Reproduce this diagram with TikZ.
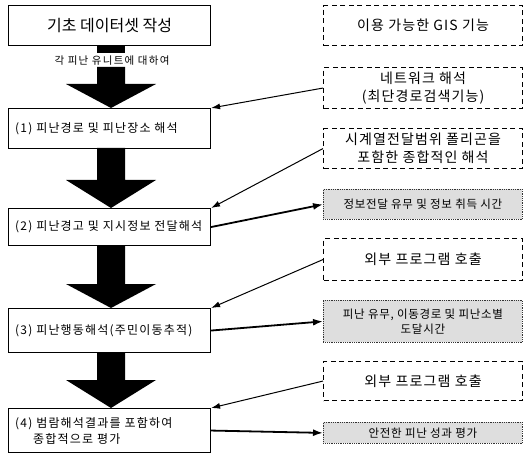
\documentclass[tikz,border=0pt]{standalone}
\usepackage{fontspec}
\setmainfont{Noto Sans CJK KR}
\usetikzlibrary{calc,arrows.meta}
\newcommand{\lsp}[1]{\addfontfeature{LetterSpace=#1}}
\tikzset{
  lbox/.style={draw=black,line width=1.1pt,fill=white,anchor=north west,minimum width=202pt,inner sep=0pt},
  ltxt/.style={anchor=west,inner sep=0pt,align=left,font=\fontsize{12}{16}\selectfont\lsp{10}},
  dbox/.style={draw=black,line width=1.1pt,dash pattern=on 5pt off 3.5pt,anchor=north west,minimum width=199pt,inner sep=0pt,font=\fontsize{14}{18}\selectfont\lsp{8},align=center},
  gbox/.style={draw=black!80,line width=0.8pt,densely dotted,fill=black!13,anchor=north west,minimum width=199pt,inner sep=0pt,font=\fontsize{11.5}{15}\selectfont\lsp{6},align=center},
  thin/.style={line width=1pt,-{Latex[length=9pt,width=6pt]}},
  thick/.style={line width=1.8pt,-{Latex[length=10pt,width=7pt]}},
  blk/.style={fill=black}
}
\begin{document}
\begin{tikzpicture}[x=1pt,y=-1pt]
\useasboundingbox (0,0) rectangle (524,454);
% left boxes
\node[lbox,minimum height=40pt,font=\fontsize{16}{18}\selectfont] (b0) at (8,5) {기초 데이터셋 작성};
\node[lbox,minimum height=40pt] (b1) at (8,108) {};
\node[ltxt] (t1) at ($(b1.west)+(7,0)$) {(1) 피난경로 및 피난장소 해석};
\node[lbox,minimum height=37pt] (b2) at (8,208) {};
\node[ltxt] (t2) at ($(b2.west)+(7,0)$) {(2) 피난경고 및 지시정보 전달해석};
\node[lbox,minimum height=44pt] (b3) at (8,308) {};
\node[ltxt] (t3) at ($(b3.west)+(7,0)$) {(3) 피난행동해석(주민이동추적)};
\node[lbox,minimum height=44pt] (b4) at (8,408) {};
\node[ltxt] (t4) at ($(b4.west)+(7,0)$) {(4) 범람해석결과를 포함하여\\\hspace*{18pt}종합적으로 평가};
% block arrows
\fill[blk] (97,45) rectangle (125,53);
\node[font=\fontsize{10.5}{12}\selectfont\lsp{12},inner sep=0pt] (lab) at (112,61) {각 피난 유니트에 대하여};
\foreach \top/\mid/\tip in {67/84/108, 148/180/208, 245/284/308, 352/380/408}{
  \fill[blk] (97,\top) -- (125,\top) -- (125,\mid) -- (156,\mid) -- (111,\tip) -- (66,\mid) -- (97,\mid) -- cycle;
}
% right boxes
\node[dbox,minimum height=40pt] (r0) at (323,5) {이용 가능한 GIS 기능};
\node[dbox,minimum height=41pt] (r1) at (323,67) {네트워크 해석\\(최단경로검색기능)};
\node[dbox,minimum height=40pt] (r2) at (323,128) {시계열전달범위 폴리곤을\\포함한 종합적인 해석};
\node[gbox,minimum height=30pt] (r3) at (323,189) {정보전달 유무 및 정보 취득 시간};
\node[dbox,minimum height=42pt] (r4) at (323,238) {외부 프로그램 호출};
\node[gbox,minimum height=42pt] (r5) at (323,300) {피난 유무, 이동경로 및 피난소별\\도달시간};
\node[dbox,minimum height=39pt] (r6) at (323,361) {외부 프로그램 호출};
\node[gbox,minimum height=21pt] (r7) at (323,422) {안전한 피난 성과 평가};
% connectors
\draw[thin] (r1.west) -- (b1.north east);
\draw[thin] (r2.west) -- (b2.north east);
\draw[thick] (b2.east) -- (r3.west);
\draw[thin] (r4.west) -- (b3.north east);
\draw[thick] (b3.east) -- (r5.west);
\draw[thin] (r6.west) -- (b4.north east);
\draw[thick] (b4.east) -- (r7.west);
\end{tikzpicture}
\end{document}
